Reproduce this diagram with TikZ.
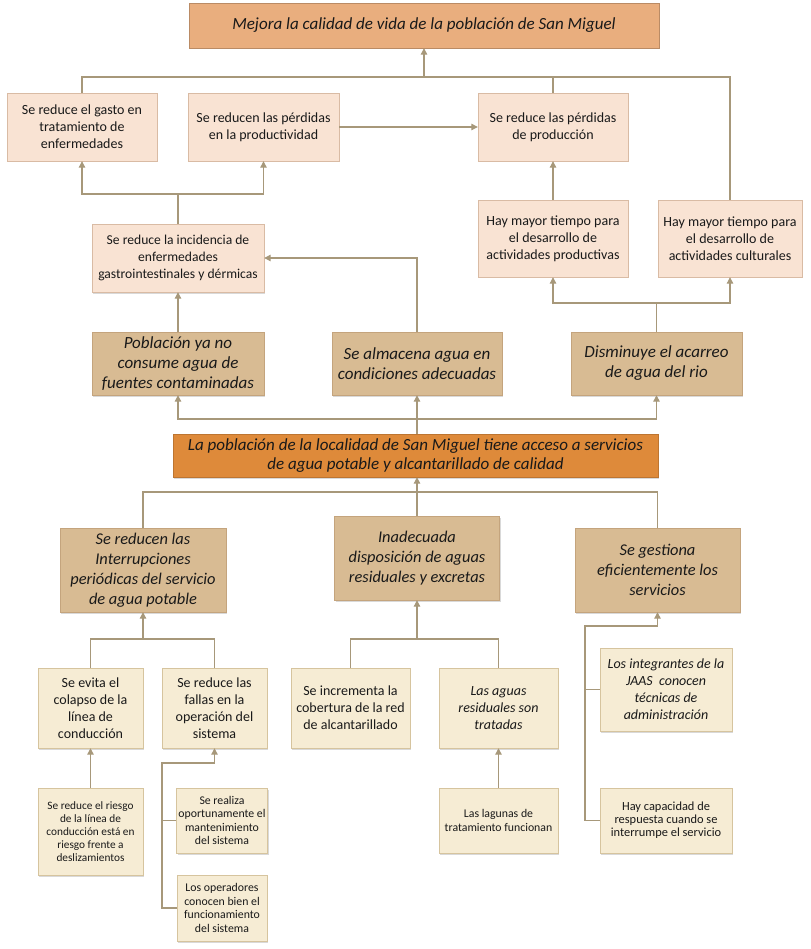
\documentclass[tikz,border=0pt]{standalone}
\usepackage{fontspec}
\setmainfont{Carlito}
\usepackage{tikz}
\usetikzlibrary{arrows.meta, shadows}
\definecolor{fintop}{HTML}{E9AE7E}
\definecolor{peach}{HTML}{F9E3D3}
\definecolor{peachline}{HTML}{D9BBA4}
\definecolor{tan}{HTML}{D8BB93}
\definecolor{tanline}{HTML}{C4A47D}
\definecolor{propos}{HTML}{DE8A3A}
\definecolor{cream}{HTML}{F6ECD4}
\definecolor{creamline}{HTML}{D6C49E}
\definecolor{conn}{HTML}{A7987A}

\begin{document}
\begin{tikzpicture}[x=1pt, y=-1pt,
    box/.style={draw, align=center, inner sep=2pt, text=black!90,
        drop shadow={shadow xshift=1.2pt, shadow yshift=-1.5pt, opacity=0.3}},
    finbox/.style={box, fill=fintop, draw=fintop!80!black},
    efbox/.style={box, fill=peach, draw=peachline},
    medbox/.style={box, fill=tan, draw=tanline},
    propbox/.style={box, fill=propos, draw=propos!85!black},
    accbox/.style={box, fill=cream, draw=creamline},
    line/.style={draw=conn, line width=1.1pt},
    arr/.style={line, -{Triangle[width=6.5pt,length=6.5pt]}}]
    \useasboundingbox (0,0) rectangle (810,949);
        % Fin
        \node[finbox, minimum width=470pt, minimum height=45pt, font=\fontsize{17}{20}\selectfont\itshape] (fin) at (424,25.5) {Mejora la calidad de vida de la población de San Miguel};
        % Efectos
        \node[efbox, minimum width=150pt, minimum height=68pt, font=\fontsize{14}{17}\selectfont] (ef1) at (82,127) {Se reduce el gasto en\\tratamiento de\\enfermedades};
        \node[efbox, minimum width=151pt, minimum height=68pt, font=\fontsize{14}{17}\selectfont] (ef2) at (263.5,127) {Se reducen las pérdidas\\en la productividad};
        \node[efbox, minimum width=150pt, minimum height=68pt, font=\fontsize{14}{17}\selectfont] (ef3) at (553,127) {Se reduce las pérdidas\\de producción};
        \node[efbox, minimum width=172pt, minimum height=68pt, font=\fontsize{13.6}{17}\selectfont] (ef4) at (178,258) {Se reduce la incidencia de\\enfermedades\\gastrointestinales y dérmicas};
        \node[efbox, minimum width=150pt, minimum height=77pt, font=\fontsize{14}{17}\selectfont] (ef5) at (553,238.5) {Hay mayor tiempo para\\el desarrollo de\\actividades productivas};
        \node[efbox, minimum width=144pt, minimum height=77pt, font=\fontsize{14}{17}\selectfont] (ef6) at (730,238.5) {Hay mayor tiempo para\\el desarrollo de\\actividades culturales};
        % Efectos directos
        \node[medbox, minimum width=172pt, minimum height=63pt, font=\fontsize{17}{20}\selectfont\itshape] (ed1) at (178,363.5) {Población ya no\\consume agua de\\fuentes contaminadas};
        \node[medbox, minimum width=170pt, minimum height=63pt, font=\fontsize{17}{20}\selectfont\itshape] (ed2) at (417,363.5) {Se almacena agua en\\condiciones adecuadas};
        \node[medbox, minimum width=171pt, minimum height=63pt, font=\fontsize{17}{20}\selectfont\itshape] (ed3) at (656.5,363.5) {Disminuye el acarreo\\de agua del rio};
        % Objetivo central
        \node[propbox, minimum width=485pt, minimum height=43pt, font=\fontsize{17}{19}\selectfont\itshape] (obj) at (415.5,455.5) {La población de la localidad de San Miguel tiene acceso a servicios\\de agua potable y alcantarillado de calidad};
        % Medios
        \node[medbox, minimum width=166pt, minimum height=84pt, font=\fontsize{16.4}{20}\selectfont\itshape] (me1) at (143,570) {Se reducen las\\Interrupciones\\periódicas del servicio\\de agua potable};
        \node[medbox, minimum width=165pt, minimum height=84pt, font=\fontsize{16.4}{20}\selectfont\itshape] (me2) at (417,558) {Inadecuada\\disposición de aguas\\residuales y excretas};
        \node[medbox, minimum width=165pt, minimum height=84pt, font=\fontsize{16.4}{20}\selectfont\itshape] (me3) at (657.5,570) {Se gestiona\\eficientemente los\\servicios};
        % Acciones
        \node[accbox, minimum width=105pt, minimum height=80pt, font=\fontsize{14}{17}\selectfont] (ac1) at (90.5,708) {Se evita el\\colapso de la\\línea de\\conducción};
        \node[accbox, minimum width=105pt, minimum height=80pt, font=\fontsize{14}{17}\selectfont] (ac2) at (214.5,708) {Se reduce las\\fallas en la\\operación del\\sistema};
        \node[accbox, minimum width=105pt, minimum height=87pt, font=\fontsize{11.3}{13}\selectfont] (ac3) at (90.5,831.5) {Se reduce el riesgo\\de la línea de\\conducción está en\\riesgo frente a\\deslizamientos};
        \node[accbox, minimum width=90pt, minimum height=65pt, font=\fontsize{11.8}{13.5}\selectfont] (ac4) at (222,820.5) {Se realiza\\oportunamente el\\mantenimiento\\del sistema};
        \node[accbox, minimum width=90pt, minimum height=66pt, font=\fontsize{11.8}{13.5}\selectfont] (ac5) at (222,908) {Los operadores\\conocen bien el\\funcionamiento\\del sistema};
        \node[accbox, minimum width=119pt, minimum height=80pt, font=\fontsize{14}{17}\selectfont] (ac6) at (350.5,708) {Se incrementa la\\cobertura de la red\\de alcantarillado};
        \node[accbox, minimum width=119pt, minimum height=80pt, font=\fontsize{14}{17}\selectfont\itshape] (ac7) at (498.5,708) {Las aguas\\residuales son\\tratadas};
        \node[accbox, minimum width=119pt, minimum height=65pt, font=\fontsize{11.8}{14}\selectfont] (ac8) at (498.5,820.5) {Las lagunas de\\tratamiento funcionan};
        \node[accbox, minimum width=132pt, minimum height=83pt, font=\fontsize{14}{17}\selectfont\itshape] (ac9) at (666,689.5) {Los integrantes de la\\JAAS~ conocen\\técnicas de\\administración};
        \node[accbox, minimum width=132pt, minimum height=65pt, font=\fontsize{12.4}{13}\selectfont] (ac10) at (666,820.5) {Hay capacidad de\\respuesta cuando se\\interrumpe el servicio};
        % Junctions
        \coordinate (jfin) at (424,77);
        \coordinate (jef) at (178,194);
        \coordinate (jed) at (656.5,303);
        \coordinate (jobj) at (417,419);
        \coordinate (jme) at (417,492);
        \coordinate (jm1) at (143,639);
        \coordinate (jm2) at (417,639);
        \coordinate (jm3) at (657.5,626);
        \coordinate (ka2) at (162,763);
        \coordinate (km3) at (585,626);
        % Connectors to the fin
        \draw[line] (ef1.north) |- (jfin) -| (ef6.north);
        \draw[line] (ef3.north) -- (ef3.north |- jfin);
        \draw[arr] (jfin) -- (fin.south);
        \draw[arr] (ef2.east) -- (ef3.west);
        \draw[line] (ef4.north) -- (jef);
        \draw[arr] (jef) -| (ef1.south);
        \draw[arr] (jef) -| (ef2.south);
        \draw[arr] (ef5.north) -- (ef3.south);
        \draw[line] (ed3.north) -- (jed);
        \draw[arr] (jed) -| (ef5.south);
        \draw[arr] (jed) -| (ef6.south);
        \draw[arr] (ed1.north) -- (ef4.south);
        \draw[arr] (ed2.north) |- (ef4.east);
        % Connectors to the objective
        \draw[line] (obj.north -| jobj) -- (jobj);
        \draw[arr] (jobj) -| (ed1.south);
        \draw[arr] (jobj) -- (ed2.south);
        \draw[arr] (jobj) -| (ed3.south);
        \draw[line] (me1.north) |- (jme) -| (me3.north);
        \draw[arr] (me2.north) -- (me2.north |- obj.south);
        % Connectors to the means
        \draw[line] (ac1.north) |- (jm1) -| (ac2.north);
        \draw[arr] (jm1) -- (me1.south);
        \draw[arr] (ac3.north) -- (ac1.south);
        \draw[line] (ac5.west) -| (ka2) -- (ka2 -| ac2.south);
        \draw[line] (ac4.west) -- (ac4.west -| ka2);
        \draw[arr] (ka2 -| ac2.south) -- (ac2.south);
        \draw[line] (ac6.north) |- (jm2) -| (ac7.north);
        \draw[arr] (jm2) -- (me2.south);
        \draw[arr] (ac8.north) -- (ac7.south);
        \draw[line] (ac10.west) -| (km3) -- (jm3);
        \draw[line] (ac9.west) -- (ac9.west -| km3);
        \draw[arr] (jm3) -- (me3.south);
\end{tikzpicture}
\end{document}
